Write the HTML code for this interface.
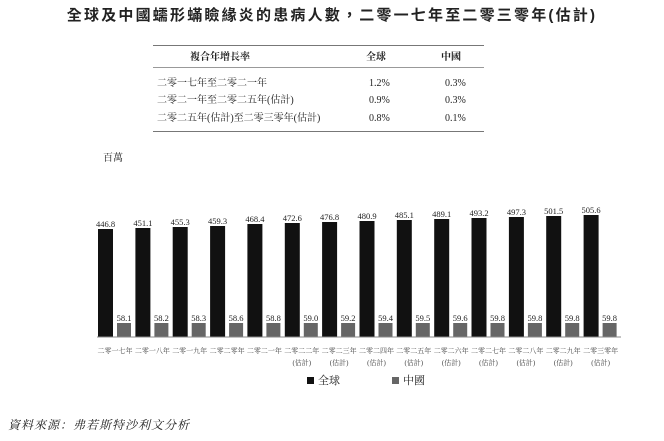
<!DOCTYPE html><html><head><meta charset="utf-8"><style>
body{margin:0;width:664px;height:441px;background:#fff;position:relative;font-family:"Liberation Serif","Noto Serif CJK SC","Noto Sans CJK TC",serif;color:#222;overflow:hidden}
.a{position:absolute;white-space:nowrap}
.t{font-family:"Liberation Sans","Noto Sans CJK TC",sans-serif;font-weight:bold;font-size:15px;letter-spacing:2.2px;left:0;width:664px;text-align:center;top:4px}
.tb{font-size:10px;line-height:12px}
</style></head><body>
<div class="a t">全球及中國蠕形蟎瞼緣炎的患病人數，二零一七年至二零三零年(估計)</div>
<div class="a" style="left:153px;top:45px;width:331px;border-top:1.5px solid #777"></div>
<div class="a" style="left:153px;top:67px;width:331px;border-top:1px solid #999"></div>
<div class="a" style="left:153px;top:131px;width:331px;border-top:1.5px solid #777"></div>
<div class="a tb" style="left:190px;top:52px;font-weight:bold">複合年增長率</div>
<div class="a tb" style="left:366px;top:52px;font-weight:bold">全球</div>
<div class="a tb" style="left:441px;top:52px;font-weight:bold">中國</div>
<div class="a tb" style="left:157px;top:78px">二零一七年至二零二一年</div>
<div class="a tb" style="left:157px;top:95px">二零二一年至二零二五年(估計)</div>
<div class="a tb" style="left:157px;top:113px">二零二五年(估計)至二零三零年(估計)</div>
<div class="a tb" style="left:369px;top:78px">1.2%</div><div class="a tb" style="left:445px;top:78px">0.3%</div>
<div class="a tb" style="left:369px;top:95px">0.9%</div><div class="a tb" style="left:445px;top:95px">0.3%</div>
<div class="a tb" style="left:369px;top:113px">0.8%</div><div class="a tb" style="left:445px;top:113px">0.1%</div>
<div class="a tb" style="left:103px;top:153px">百萬</div>
<svg class="a" style="left:0;top:0" width="664" height="441" font-family="Liberation Serif,Noto Serif CJK SC,serif" font-size="8.5" fill="#222">
<g fill="#111">
<rect x="98" y="229" width="15" height="108"/>
<rect x="135.4" y="228" width="15" height="109"/>
<rect x="172.7" y="227" width="15" height="110"/>
<rect x="210.1" y="226" width="15" height="111"/>
<rect x="247.4" y="224" width="15" height="113"/>
<rect x="284.8" y="223" width="15" height="114"/>
<rect x="322.1" y="222" width="15" height="115"/>
<rect x="359.5" y="221" width="15" height="116"/>
<rect x="396.8" y="220" width="15" height="117"/>
<rect x="434.2" y="219" width="15" height="118"/>
<rect x="471.5" y="218" width="15" height="119"/>
<rect x="508.9" y="217" width="15" height="120"/>
<rect x="546.2" y="216" width="15" height="121"/>
<rect x="583.6" y="215" width="15" height="122"/>
</g>
<g fill="#666">
<rect x="117" y="323" width="14" height="14"/>
<rect x="154.4" y="323" width="14" height="14"/>
<rect x="191.7" y="323" width="14" height="14"/>
<rect x="229.1" y="323" width="14" height="14"/>
<rect x="266.4" y="323" width="14" height="14"/>
<rect x="303.8" y="323" width="14" height="14"/>
<rect x="341.1" y="323" width="14" height="14"/>
<rect x="378.5" y="323" width="14" height="14"/>
<rect x="415.8" y="323" width="14" height="14"/>
<rect x="453.2" y="323" width="14" height="14"/>
<rect x="490.5" y="323" width="14" height="14"/>
<rect x="527.9" y="323" width="14" height="14"/>
<rect x="565.2" y="323" width="14" height="14"/>
<rect x="602.6" y="323" width="14" height="14"/>
</g>
<g text-anchor="middle">
<text x="105.5" y="227">446.8</text><text x="124" y="321">58.1</text>
<text x="142.9" y="226">451.1</text><text x="161.4" y="321">58.2</text>
<text x="180.2" y="225">455.3</text><text x="198.7" y="321">58.3</text>
<text x="217.6" y="224">459.3</text><text x="236.1" y="321">58.6</text>
<text x="254.9" y="222">468.4</text><text x="273.4" y="321">58.8</text>
<text x="292.3" y="221">472.6</text><text x="310.8" y="321">59.0</text>
<text x="329.6" y="220">476.8</text><text x="348.1" y="321">59.2</text>
<text x="367" y="219">480.9</text><text x="385.5" y="321">59.4</text>
<text x="404.3" y="218">485.1</text><text x="422.8" y="321">59.5</text>
<text x="441.7" y="217">489.1</text><text x="460.2" y="321">59.6</text>
<text x="479" y="216">493.2</text><text x="497.5" y="321">59.8</text>
<text x="516.4" y="215">497.3</text><text x="534.9" y="321">59.8</text>
<text x="553.7" y="214">501.5</text><text x="572.2" y="321">59.8</text>
<text x="591.1" y="213">505.6</text><text x="609.6" y="321">59.8</text>
</g>
<g text-anchor="middle" font-size="7" fill="#444">
<text x="115" y="353">二零一七年</text>
<text x="152.4" y="353">二零一八年</text>
<text x="189.7" y="353">二零一九年</text>
<text x="227.1" y="353">二零二零年</text>
<text x="264.4" y="353">二零二一年</text>
<text x="301.8" y="353">二零二二年</text><text x="301.8" y="365">(估計)</text>
<text x="339.1" y="353">二零二三年</text><text x="339.1" y="365">(估計)</text>
<text x="376.5" y="353">二零二四年</text><text x="376.5" y="365">(估計)</text>
<text x="413.8" y="353">二零二五年</text><text x="413.8" y="365">(估計)</text>
<text x="451.2" y="353">二零二六年</text><text x="451.2" y="365">(估計)</text>
<text x="488.5" y="353">二零二七年</text><text x="488.5" y="365">(估計)</text>
<text x="525.9" y="353">二零二八年</text><text x="525.9" y="365">(估計)</text>
<text x="563.2" y="353">二零二九年</text><text x="563.2" y="365">(估計)</text>
<text x="600.6" y="353">二零三零年</text><text x="600.6" y="365">(估計)</text>
</g>
<line x1="97" y1="337" x2="621" y2="337" stroke="#888" stroke-width="1"/>
<rect x="307" y="377" width="7" height="7" fill="#111"/>
<text x="318" y="384" font-size="11">全球</text>
<rect x="392" y="377" width="7" height="7" fill="#666"/>
<text x="403" y="384" font-size="11">中國</text>
</svg>
<div class="a" style="left:8px;top:416px;font-size:12px;font-style:italic;letter-spacing:1px">資料來源：弗若斯特沙利文分析</div>
</body></html>
